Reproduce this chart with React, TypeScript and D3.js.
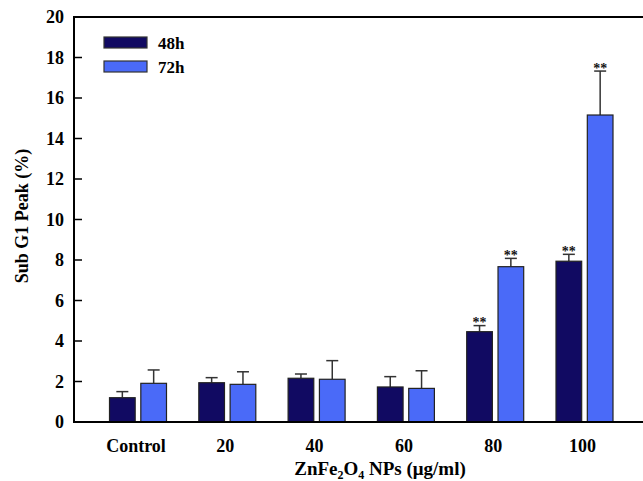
import React from "react";
import * as d3 from "d3";

const categories = ["Control", "20", "40", "60", "80", "100"];
const series = ["48h", "72h"];
const values48 = [1.2, 1.94, 2.16, 1.73, 4.46, 7.94];
const errors48 = [0.3, 0.25, 0.21, 0.51, 0.3, 0.34];
const values72 = [1.91, 1.86, 2.11, 1.66, 7.67, 15.16];
const errors72 = [0.66, 0.62, 0.92, 0.87, 0.41, 2.17];
const sig48 = [false, false, false, false, true, true];
const sig72 = [false, false, false, false, true, true];
const yTicks = [0, 2, 4, 6, 8, 10, 12, 14, 16, 18, 20];
const colors = ["#110a62", "#4a6af8"];

const W = 643;
const H = 481;
const left = 74;
const top = 17;
const bottom = 422;

export default function App() {
  const y = d3.scaleLinear().domain([0, 20]).range([bottom, top]);
  const x = d3.scaleBand().domain(categories).range([93.35, 629.15]).padding(0);
  const inner = d3.scaleBand().domain(series).range([-28.5, 28.5]).paddingInner(0.18);
  const font = "'Liberation Serif', 'Times New Roman', serif";
  const vals = [values48, values72];
  const errs = [errors48, errors72];
  const sigs = [sig48, sig72];

  return (
    <svg width={W} height={H} style={{ position: "absolute", left: 0, top: 0, background: "#fff" }} fontFamily={font}>
      {series.map((s, si) =>
        categories.map((c, ci) => {
          const cx = (x(c) as number) + x.bandwidth() / 2;
          const bx = cx + (inner(s) as number);
          const bw = inner.bandwidth();
          const v = vals[si][ci];
          const e = errs[si][ci];
          const mid = bx + bw / 2;
          const yTop = y(v + e);
          return (
            <g key={s + c}>
              <line x1={mid} x2={mid} y1={y(v)} y2={yTop} stroke="#333" strokeWidth={1.5} />
              <line x1={mid - 6} x2={mid + 6} y1={yTop} y2={yTop} stroke="#333" strokeWidth={1.5} />
              <rect x={bx} y={y(v)} width={bw} height={bottom - y(v)} fill={colors[si]} stroke="#222" strokeWidth={1.2} />
              {sigs[si][ci] && (
                <text x={mid} y={yTop + 1.5} textAnchor="middle" fontSize={14} fontWeight="bold" fill="#111">**</text>
              )}
            </g>
          );
        })
      )}
      <line x1={left} x2={W} y1={top} y2={top} stroke="#000" strokeWidth={2} />
      <line x1={left} x2={left} y1={top - 1} y2={bottom + 1} stroke="#000" strokeWidth={2} />
      <line x1={left - 1} x2={W} y1={bottom} y2={bottom} stroke="#000" strokeWidth={2} />
      {yTicks.map((t) => (
        <g key={t}>
          <line x1={left} x2={left + 8} y1={y(t)} y2={y(t)} stroke="#000" strokeWidth={1.5} />
          <text x={64} y={y(t) + 6} textAnchor="end" fontSize={18} fontWeight="bold">{t}</text>
        </g>
      ))}
      {categories.map((c) => (
        <text key={c} x={(x(c) as number) + x.bandwidth() / 2 - 2} y={452} textAnchor="middle" fontSize={18} fontWeight="bold">{c}</text>
      ))}
      <text x={380} y={475} textAnchor="middle" fontSize={19} fontWeight="bold">
        ZnFe<tspan fontSize={12} dy={4}>2</tspan><tspan dy={-4}>O</tspan><tspan fontSize={12} dy={4}>4</tspan><tspan dy={-4}> NPs (μg/ml)</tspan>
      </text>
      <text transform={`translate(28,216) rotate(-90)`} textAnchor="middle" fontSize={18} fontWeight="bold">Sub G1 Peak (%)</text>
      {series.map((s, i) => (
        <g key={s}>
          <rect x={104} y={37 + i * 24} width={43} height={11} fill={colors[i]} stroke="#333" strokeWidth={1.2} />
          <text x={158} y={48.5 + i * 24} fontSize={17} fontWeight="bold">{s}</text>
        </g>
      ))}
    </svg>
  );
}
